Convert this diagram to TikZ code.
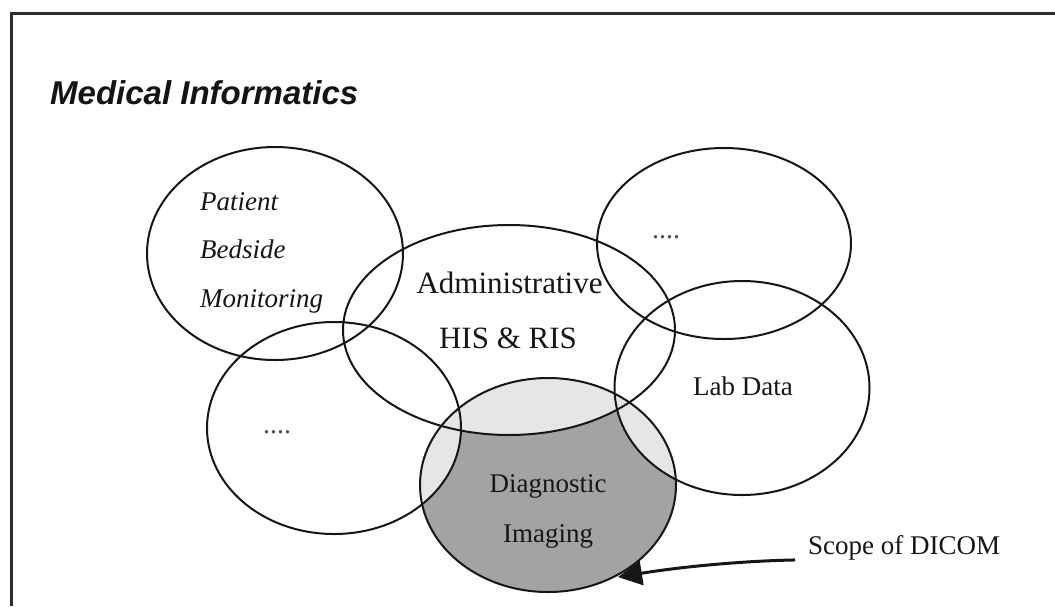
\documentclass[tikz,border=0pt]{standalone}
\usepackage{fontspec}
\setmainfont{Liberation Serif}
\newfontfamily\titlefont{Liberation Sans}
\usetikzlibrary{arrows.meta,shapes.geometric}
\definecolor{darkfill}{RGB}{163,163,163}
\definecolor{lightfill}{RGB}{230,230,233}
\definecolor{inkline}{RGB}{22,22,22}
\begin{document}
\begin{tikzpicture}[x=1pt,y=-1pt,
  ell/.style={draw=inkline,line width=2pt,ellipse,inner sep=0pt,outer sep=0pt},
  lbl/.style={inner sep=0pt,text=inkline,font=\fontsize{27}{30}\selectfont},
  biglbl/.style={inner sep=0pt,text=inkline,font=\fontsize{31}{34}\selectfont},
  itlbl/.style={inner sep=0pt,text=inkline,font=\fontsize{27}{30}\selectfont\itshape,anchor=base west},
  dots/.style={inner sep=0pt,text=black!70,font=\fontsize{28}{30}\selectfont},
  frameline/.style={draw=black!82,line width=3pt,line join=miter}]
\useasboundingbox (0,0) rectangle (1055,606);
\fill[white] (0,0) rectangle (1055,606);
% frame
\draw[frameline] (1055,13) -- (11,13) -- (11,606);
% title
\node[inner sep=0pt,anchor=base west,text=black!92,font=\titlefont\fontsize{33}{36}\selectfont\bfseries\itshape] (title) at (50,104) {Medical Informatics};
% fills of the diagnostic ellipse
\fill[darkfill] (548,485) ellipse [x radius=128, y radius=107];
\begin{scope}
  \clip (548,485) ellipse [x radius=128, y radius=107];
  \fill[lightfill] (509,330) ellipse [x radius=166, y radius=105];
  \fill[lightfill] (334,428) ellipse [x radius=127, y radius=106];
  \fill[lightfill] (742,388) ellipse [x radius=127.5, y radius=107];
\end{scope}
% ellipses
\node[ell,minimum width=256pt,minimum height=213pt] (patient) at (275,253.5) {};
\node[ell,minimum width=332pt,minimum height=210pt] (admin) at (509,330) {};
\node[ell,minimum width=254pt,minimum height=191pt] (topright) at (724,243.5) {};
\node[ell,minimum width=255pt,minimum height=214pt] (lab) at (742,388) {};
\node[ell,minimum width=254pt,minimum height=212pt] (leftdots) at (334,428) {};
\node[ell,minimum width=256pt,minimum height=214pt] (diag) at (548,485) {};
% labels
\node[itlbl] (tpatient) at (200,210) {Patient};
\node[itlbl] (tbedside) at (200,258) {Bedside};
\node[itlbl] (tmonitor) at (200,307) {Monitoring};
\node[biglbl,anchor=base] (tadmin) at (509.5,293) {Administrative};
\node[biglbl,anchor=base] (this) at (508,348) {HIS \& RIS};
\node[lbl,anchor=base] (tlab) at (743,395) {Lab Data};
\node[dots,anchor=base] (tdots1) at (666,238) {....};
\node[dots,anchor=base] (tdots2) at (277,433) {....};
\node[lbl,anchor=base] (tdiag) at (548,492) {Diagnostic};
\node[lbl,anchor=base] (timg) at (548,542) {Imaging};
\node[inner sep=0pt,anchor=base west,text=inkline,font=\fontsize{27}{29}\selectfont] (scope) at (808,554) {Scope of DICOM};
% arrow
\coordinate (tip) at (618,577);
\coordinate (astart) at ([xshift=-13pt]scope.south west);
\draw[draw=inkline,line width=3pt,-{Triangle[length=24pt,width=24pt]}]
  (astart) .. controls (740,561) and (680,567) .. (tip);
\end{tikzpicture}
\end{document}
